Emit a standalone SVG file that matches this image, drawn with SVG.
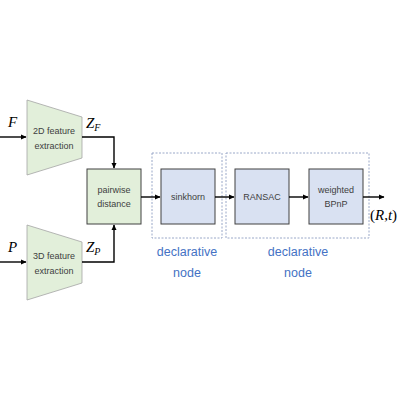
<svg xmlns="http://www.w3.org/2000/svg" width="400" height="400" viewBox="0 0 400 400">
<defs>
<marker id="ah" markerWidth="6" markerHeight="6" refX="5" refY="3" orient="auto" markerUnits="userSpaceOnUse">
<path d="M0,0.5 L5.5,3 L0,5.5 Z" fill="#000"/>
</marker>
<style>
.trap{fill:#E2EFDA;stroke:#A5A5A5;stroke-width:0.8}
.gbox{fill:#E2EFDA;stroke:#404040;stroke-width:1}
.bbox{fill:#D9E1F2;stroke:#404040;stroke-width:1}
.dash{fill:none;stroke:#9AA8C8;stroke-width:1;stroke-dasharray:2,1.5}
.lbl{font-family:"Liberation Sans",Arial,sans-serif;font-size:9px;fill:#404040;text-anchor:middle}
.math{font-family:"Liberation Serif","DejaVu Serif",serif;font-style:italic;font-size:15px;fill:#000}
.up{font-style:normal}
.sub{font-size:10px}
.decl{font-family:"Liberation Sans",Arial,sans-serif;font-size:12.5px;fill:#4472C4;text-anchor:middle}
.conn{fill:none;stroke:#000;stroke-width:1.4}
</style>
</defs>
<rect width="400" height="400" fill="#fff"/>
<g id="declarative1"><rect class="dash" x="152" y="153" width="70" height="85"/></g>
<g id="declarative2"><rect class="dash" x="226" y="153" width="143" height="85"/></g>
<g id="fe2d">
<polygon class="trap" points="27,100 82,117 82,158 27,175"/>
<text class="lbl" x="54" y="134">2D feature</text>
<text class="lbl" x="54" y="149">extraction</text>
</g>
<g id="fe3d">
<polygon class="trap" points="27,225 82,242 82,283 27,300"/>
<text class="lbl" x="54" y="259">3D feature</text>
<text class="lbl" x="54" y="274">extraction</text>
</g>
<g id="pairwise">
<rect class="gbox" x="87" y="169" width="54" height="55"/>
<text class="lbl" x="114" y="193">pairwise</text>
<text class="lbl" x="114" y="207">distance</text>
</g>
<g id="sinkhorn">
<rect class="bbox" x="161" y="169" width="54" height="55"/>
<text class="lbl" x="188" y="200">sinkhorn</text>
</g>
<g id="ransac">
<rect class="bbox" x="235" y="169" width="54" height="55"/>
<text class="lbl" x="262" y="200">RANSAC</text>
</g>
<g id="bpnp">
<rect class="bbox" x="309" y="169" width="54" height="55"/>
<text class="lbl" x="336" y="193">weighted</text>
<text class="lbl" x="336" y="207">BPnP</text>
</g>
<g id="connectors">
<path class="conn" d="M0,137 H26" marker-end="url(#ah)"/>
<path class="conn" d="M0,262 H26" marker-end="url(#ah)"/>
<path class="conn" d="M82,137 H114 V168" marker-end="url(#ah)"/>
<path class="conn" d="M82,262 H114 V225" marker-end="url(#ah)"/>
<path class="conn" d="M141,197 H160" marker-end="url(#ah)"/>
<path class="conn" d="M215,197 H234" marker-end="url(#ah)"/>
<path class="conn" d="M289,197 H308" marker-end="url(#ah)"/>
<path class="conn" d="M363,197 H384" marker-end="url(#ah)"/>
</g>
<g id="labels">
<text class="math" x="8" y="127">F</text>
<text class="math" x="8" y="252">P</text>
<text class="math" x="86" y="128">Z<tspan class="sub" dy="3">F</tspan></text>
<text class="math" x="86" y="252">Z<tspan class="sub" dy="3">P</tspan></text>
<text class="math" x="370" y="220"><tspan class="up">(</tspan>R<tspan class="up">,</tspan>t<tspan class="up">)</tspan></text>
<text class="decl" x="187" y="256">declarative</text>
<text class="decl" x="187" y="277">node</text>
<text class="decl" x="298" y="256">declarative</text>
<text class="decl" x="298" y="277">node</text>
</g>
</svg>
